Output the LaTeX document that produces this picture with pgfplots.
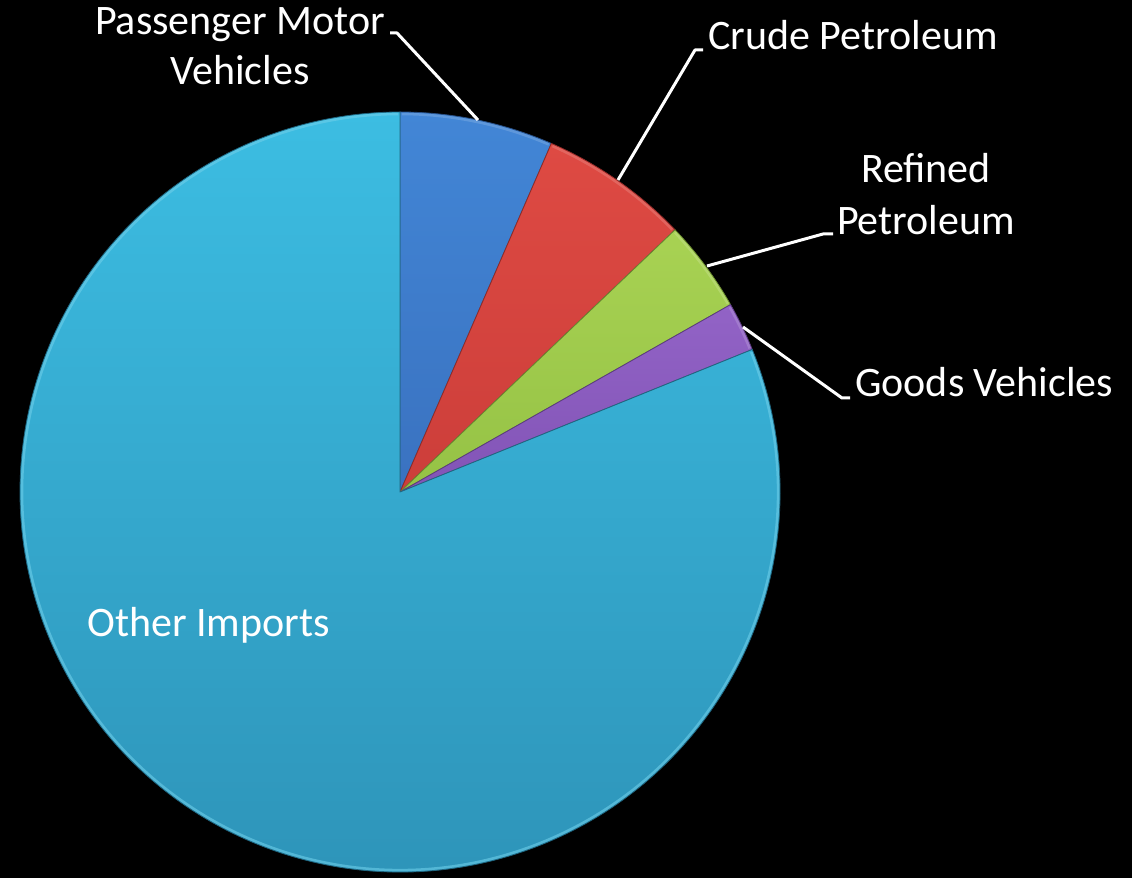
\documentclass[border=0pt]{standalone}
\usepackage{pgfplots}
\usepackage{pgfplotstable}
\pgfplotsset{compat=1.18}
\usepackage{fontspec}
\setmainfont{Carlito}
\definecolor{cPassT}{HTML}{4286D6}
\definecolor{cPassB}{HTML}{3A72C0}
\definecolor{cCrudeT}{HTML}{DE4A43}
\definecolor{cCrudeB}{HTML}{CC3E3A}
\definecolor{cRefT}{HTML}{A8D253}
\definecolor{cRefB}{HTML}{95C245}
\definecolor{cGoodsT}{HTML}{9263C6}
\definecolor{cGoodsB}{HTML}{8254B6}
\definecolor{cOtherT}{HTML}{3CBDE2}
\definecolor{cOtherB}{HTML}{2D92B7}

\pgfplotstableread{
name value
Passenger 6.52
Crude 6.36
Refined 3.91
Goods 2.09
Other 81.12
}\piedata
\pgfplotstablecreatecol[expr accum={\pgfmathaccuma + \thisrow{value}}{0}]{cum}\piedata

\begin{document}
\begin{tikzpicture}
\begin{axis}[x=1pt,y=1pt,xmin=0,xmax=1132,ymin=0,ymax=878,
  hide axis, clip=false]
\pgfplotsextra{
  \fill[black] (axis cs:0,0) rectangle (axis cs:1132,878);
  \coordinate (BL) at (axis cs:0,0);
  \coordinate (TR) at (axis cs:1132,878);
  \foreach \i/\ct/\cb in {0/cPassT/cPassB,1/cCrudeT/cCrudeB,2/cRefT/cRefB,3/cGoodsT/cGoodsB,4/cOtherT/cOtherB}{
    \pgfplotstablegetelem{\i}{value}\of\piedata
    \let\val\pgfplotsretval
    \pgfplotstablegetelem{\i}{cum}\of\piedata
    \let\cumv\pgfplotsretval
    \pgfmathsetmacro\s{90-3.6*(\cumv-\val)}
    \pgfmathsetmacro\e{90-3.6*\cumv}
    \shade[top color=\ct, bottom color=\cb, draw=\cb!70!black, line width=0.8pt, line join=round]
      (axis cs:400,386) -- (axis cs:{400+380*cos(\s)},{386+380*sin(\s)})
      arc[start angle=\s, end angle=\e, radius=380pt] -- cycle;
    \draw[\ct!75!white, line width=2.5pt, opacity=0.6]
      (axis cs:{400+378*cos(\s-0.3)},{386+378*sin(\s-0.3)})
      arc[start angle=\s-0.3, end angle=\e+0.3, radius=378pt];
  }
  % leader lines
  \draw[white, line width=3pt, line join=round]
    (axis cs:390,845) -- (axis cs:397,845) -- (axis cs:478,758);
  \draw[white, line width=3pt, line join=round]
    (axis cs:703,828) -- (axis cs:695,828) -- (axis cs:618,698);
  \draw[white, line width=3pt, line join=round]
    (axis cs:833,644) -- (axis cs:823,644) -- (axis cs:707,612);
  \draw[white, line width=3pt, line join=round]
    (axis cs:743,551) -- (axis cs:842,480) -- (axis cs:850,480);
  % labels
  \begingroup
  \fontsize{42}{50}\selectfont
  \node[white, anchor=base, inner sep=0pt] at (axis cs:240,843) {Passenger Motor};
  \node[white, anchor=base, inner sep=0pt] at (axis cs:240,793) {Vehicles};
  \node[white, anchor=base west, inner sep=0pt] at (axis cs:708,828) {Crude Petroleum};
  \node[white, anchor=base, inner sep=0pt] at (axis cs:926,695) {Refined};
  \node[white, anchor=base, inner sep=0pt] at (axis cs:926,643) {Petroleum};
  \node[white, anchor=base west, inner sep=0pt] at (axis cs:855,481) {Goods Vehicles};
  \node[white, anchor=base west, inner sep=0pt] at (axis cs:87,241) {Other Imports};
  \endgroup
}
\end{axis}
\pgfresetboundingbox
\path[use as bounding box] (BL) rectangle (TR);
\end{tikzpicture}
\end{document}
